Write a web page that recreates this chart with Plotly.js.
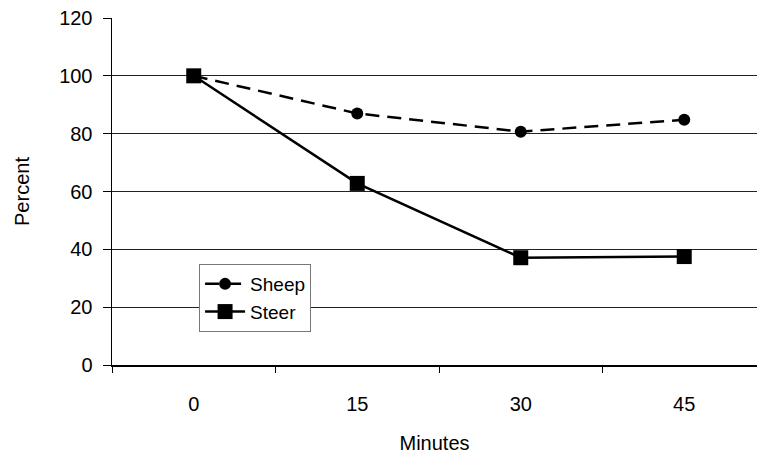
<!DOCTYPE html>
<html><head><meta charset="utf-8">
<script src="https://cdn.plot.ly/plotly-3.0.1.min.js"></script>
<style>html,body{margin:0;padding:0;background:#fff}</style>
</head><body>
<div id="chart" style="width:757px;height:463px"></div>
<script>
const minutes = ["0", "15", "30", "45"];
const sheep = [100, 87, 80.7, 84.8];
const steer = [100, 62.8, 37.1, 37.5];
const yTicks = [0, 20, 40, 60, 80, 100, 120];

const font = {family: "Liberation Sans, Arial, sans-serif", size: 20, color: "#000"};
const traces = [
  {x: minutes, y: sheep, name: "Sheep", type: "scatter", mode: "lines+markers",
   line: {color: "#000", width: 2.5, dash: "14px,8px"},
   marker: {symbol: "circle", size: 12, color: "#000"}},
  {x: minutes, y: steer, name: "Steer", type: "scatter", mode: "lines+markers",
   line: {color: "#000", width: 2.5},
   marker: {symbol: "square", size: 15, color: "#000"}}
];
const layout = {
  width: 757, height: 463,
  margin: {l: 112, r: 0, t: 18, b: 98},
  paper_bgcolor: "#fff", plot_bgcolor: "#fff",
  font: font,
  showlegend: true,
  legend: {x: 0.135, y: 0.291, xanchor: "left", yanchor: "top",
           bordercolor: "#777", borderwidth: 1, bgcolor: "#fff",
           font: {family: font.family, size: 19, color: "#000"},
           tracegroupgap: 0, itemwidth: 40},
  xaxis: {type: "category", categoryarray: minutes, range: [-0.5, 3.445],
          tickson: "boundaries", ticks: "outside", ticklen: 6, tickcolor: "#000",
          ticklabelstandoff: 20,
          showgrid: false, showline: true, linecolor: "#000", linewidth: 1.5,
          zeroline: false, tickfont: font, fixedrange: true,
          title: {text: "Minutes", font: font, standoff: 22}},
  yaxis: {range: [0, 120], tickvals: yTicks, ticks: "outside", ticklen: 8, tickcolor: "#000",
          ticklabelstandoff: 6,
          showgrid: true, gridcolor: "#222", gridwidth: 1,
          showline: true, linecolor: "#000", linewidth: 1.5, zeroline: false,
          tickfont: font, fixedrange: true,
          title: {text: "Percent", font: font, standoff: 24}}
};
Plotly.newPlot("chart", traces, layout, {displayModeBar: false, staticPlot: true});
</script>
</body></html>
